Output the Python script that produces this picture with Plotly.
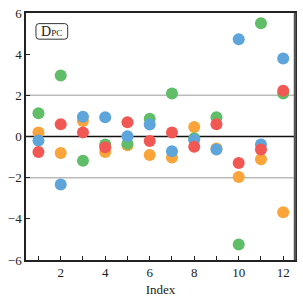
import plotly.graph_objects as go

index = list(range(1, 13))
blue = [-0.20, -2.33, 0.96, 0.94, 0.01, 0.58, -0.72, -0.16, -0.63, 4.73, -0.39, 3.79]
orange = [0.20, -0.80, 0.75, -0.75, -0.42, -0.90, -1.02, 0.46, -0.58, -1.97, -1.10, -3.68]
green = [1.13, 2.96, -1.18, -0.39, -0.35, 0.86, 2.09, -0.09, 0.94, -5.25, 5.50, 2.09]
red = [-0.75, 0.60, 0.20, -0.52, 0.69, -0.22, 0.19, -0.50, 0.60, -1.29, -0.63, 2.22]

xtick_vals = list(range(1, 13))
xtick_text = ["" if v % 2 else str(v) for v in xtick_vals]
ytick_vals = [-6, -4, -2, 0, 2, 4, 6]
ytick_text = ["\u22126", "\u22124", "\u22122", "0", "2", "4", "6"]

series = [
    ("orange", orange, "#FAA43A"),
    ("green", green, "#60BD68"),
    ("blue", blue, "#5DA5DA"),
    ("red", red, "#F15854"),
]

fig = go.Figure()
for name, vals, col in series:
    fig.add_trace(go.Scatter(
        x=index, y=vals, mode="markers", name=name,
        marker=dict(size=12, color=col, line=dict(width=0)),
        showlegend=False,
    ))

font = "Liberation Serif, DejaVu Serif, serif"

fig.update_layout(
    width=303, height=301,
    margin=dict(l=26, r=6, t=9, b=38),
    paper_bgcolor="white", plot_bgcolor="white",
    font=dict(family=font, size=13, color="#222"),
    xaxis=dict(
        range=[0.44, 12.53], tickvals=xtick_vals, ticktext=xtick_text,
        ticks="inside", ticklen=4, tickcolor="#222", tickwidth=1,
        showgrid=False, zeroline=False,
        showline=True, linecolor="#222", linewidth=1.5, mirror=True,
        title=dict(text="Index", font=dict(family=font, size=13), standoff=6),
    ),
    yaxis=dict(
        range=[-6, 6], tickvals=ytick_vals, ticktext=ytick_text,
        ticks="inside", ticklen=4, tickcolor="#222", tickwidth=1,
        showgrid=False, zeroline=False,
        showline=True, linecolor="#222", linewidth=1.5, mirror=True,
    ),
    shapes=[
        dict(type="line", xref="paper", yref="y", x0=0, x1=1, y0=2, y1=2,
             line=dict(color="#BBBBBB", width=1.5), layer="below"),
        dict(type="line", xref="paper", yref="y", x0=0, x1=1, y0=-2, y1=-2,
             line=dict(color="#BBBBBB", width=1.5), layer="below"),
        dict(type="line", xref="paper", yref="y", x0=0, x1=1, y0=0, y1=0,
             line=dict(color="#111111", width=1.5), layer="below"),
        dict(type="line", xref="paper", yref="paper", x0=1, x1=1, y0=0, y1=1,
             line=dict(color="#555555", width=2.5), layer="above"),
        dict(type="path", xref="paper", yref="paper",
             path="M 0.048 0.957 L 0.144 0.957 Q 0.155 0.957 0.155 0.945 "
                  "L 0.155 0.906 Q 0.155 0.894 0.144 0.894 L 0.048 0.894 "
                  "Q 0.037 0.894 0.037 0.906 L 0.037 0.945 Q 0.037 0.957 0.048 0.957 Z",
             line=dict(color="#333333", width=1), fillcolor="white", layer="above"),
    ],
    annotations=[
        dict(xref="paper", yref="paper", x=0.096, y=0.9255, xanchor="center", yanchor="middle",
             text="D<span style='font-size:9px'>PC</span>", showarrow=False,
             font=dict(family=font, size=14, color="#222")),
    ],
)

fig.write_html("out.html", config={"displayModeBar": False},
               post_script="document.body.style.margin='0';document.body.style.overflow='hidden';")
